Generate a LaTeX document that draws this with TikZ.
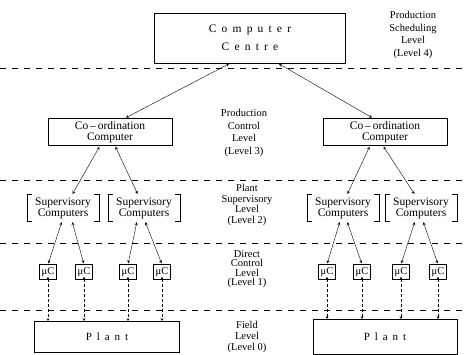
\documentclass[tikz,border=0pt]{standalone}
\usepackage{fontspec}
\setmainfont{Liberation Serif}
\newfontfamily\spaced[LetterSpace=45]{Liberation Serif}
\begin{document}
\begin{tikzpicture}[x=1pt,y=-1pt,>=stealth,every node/.style={font=\fontsize{10.5}{12.5}\selectfont,align=center},
b/.style={draw,semithick,inner sep=1pt,font=\fontsize{11.5}{11}\selectfont},
sv/.style={inner sep=1pt,minimum width=72,minimum height=26,font=\fontsize{11.5}{11}\selectfont},
mc/.style={draw,thin,inner sep=1pt,minimum width=17,minimum height=15,font=\fontsize{10.5}{11}\selectfont},
sep/.style={semithick,dash pattern=on 6pt off 6pt},
link/.style={<->,thin,shorten <=1pt,shorten >=1pt},
io/.style={<->,thin,densely dashed}]
\useasboundingbox (0,0) rectangle (466,355);
% levels
\foreach \y in {68,180,243,310} \draw[sep] (0,\y)--(466,\y);
\node (lv4) at (413,35) {Production\\Scheduling\\Level\\(Level 4)};
\node (lv3) at (244,133) {Production\\Control\\Level\\(Level 3)};
\node[font=\fontsize{10.5}{10.5}\selectfont] (lv2) at (247,205) {Plant\\Supervisory\\Level\\(Level 2)};
\node[font=\fontsize{10.5}{9.5}\selectfont] (lv1) at (247,269) {Direct\\Control\\Level\\(Level 1)};
\node[font=\fontsize{10.5}{11}\selectfont] (lv0) at (247,337) {Field\\Level\\(Level 0)};
% boxes
\node[b,minimum width=191,minimum height=50,font=\spaced\fontsize{11.5}{18}\selectfont] (cc) at (250,38) {Computer\\Centre};
\node[b,minimum width=124,minimum height=27] (co1) at (110,132) {Co\,–\,ordination\\Computer};
\node[b,minimum width=124,minimum height=27] (co2) at (385,132) {Co\,–\,ordination\\Computer};
\node[sv] (sv1) at (63,208) {Supervisory\\Computers};
\node[sv] (sv2) at (144,208) {Supervisory\\Computers};
\node[sv] (sv3) at (343,208) {Supervisory\\Computers};
\node[sv] (sv4) at (421,208) {Supervisory\\Computers};
\foreach \n in {sv1,sv2,sv3,sv4}{
  \draw[semithick] ([xshift=5pt]\n.north west) -| (\n.south west) -- ([xshift=5pt]\n.south west);
  \draw[semithick] ([xshift=-5pt]\n.north east) -| (\n.south east) -- ([xshift=-5pt]\n.south east);
}
\foreach \n/\x in {1/48,2/84,3/128,4/162,5/327,6/362,7/401,8/438}
  \node[mc] (mc\n) at (\x,272) {μC};
\node[b,minimum width=145,minimum height=31,font=\spaced\fontsize{11}{11}\selectfont] (pl1) at (107,337) {Plant};
\node[b,minimum width=144,minimum height=35,font=\spaced\fontsize{11}{11}\selectfont] (pl2) at (385,337) {Plant};
% connections
\draw[link] ([xshift=-20pt]cc.south)--([xshift=15pt]co1.north);
\draw[link] ([xshift=28pt]cc.south)--([xshift=-12pt]co2.north);
\draw[link] ([xshift=-10pt]co1.south)--([xshift=9pt]sv1.north);
\draw[link] ([xshift=5pt]co1.south)--([xshift=-6pt]sv2.north);
\draw[link] ([xshift=-15pt]co2.south)--([xshift=4pt]sv3.north);
\draw[link] ([xshift=-2pt]co2.south)--([xshift=-6pt]sv4.north);
\draw[link] ([xshift=-1pt]sv1.south)--(mc1.north);
\draw[link] ([xshift=9pt]sv1.south)--(mc2.north);
\draw[link] ([xshift=-7pt]sv2.south)--(mc3.north);
\draw[link] ([xshift=1pt]sv2.south)--(mc4.north);
\draw[link] ([xshift=-3pt]sv3.south)--(mc5.north);
\draw[link] ([xshift=4pt]sv3.south)--(mc6.north);
\draw[link] ([xshift=-6pt]sv4.south)--(mc7.north);
\draw[link] ([xshift=2pt]sv4.south)--(mc8.north);
\foreach \n in {1,2,3,4} \draw[io] ([yshift=3pt]mc\n.south)--(mc\n.south |- pl1.north);
\foreach \n in {5,6,7,8} \draw[io] ([yshift=3pt]mc\n.south)--(mc\n.south |- pl2.north);
\end{tikzpicture}
\end{document}
